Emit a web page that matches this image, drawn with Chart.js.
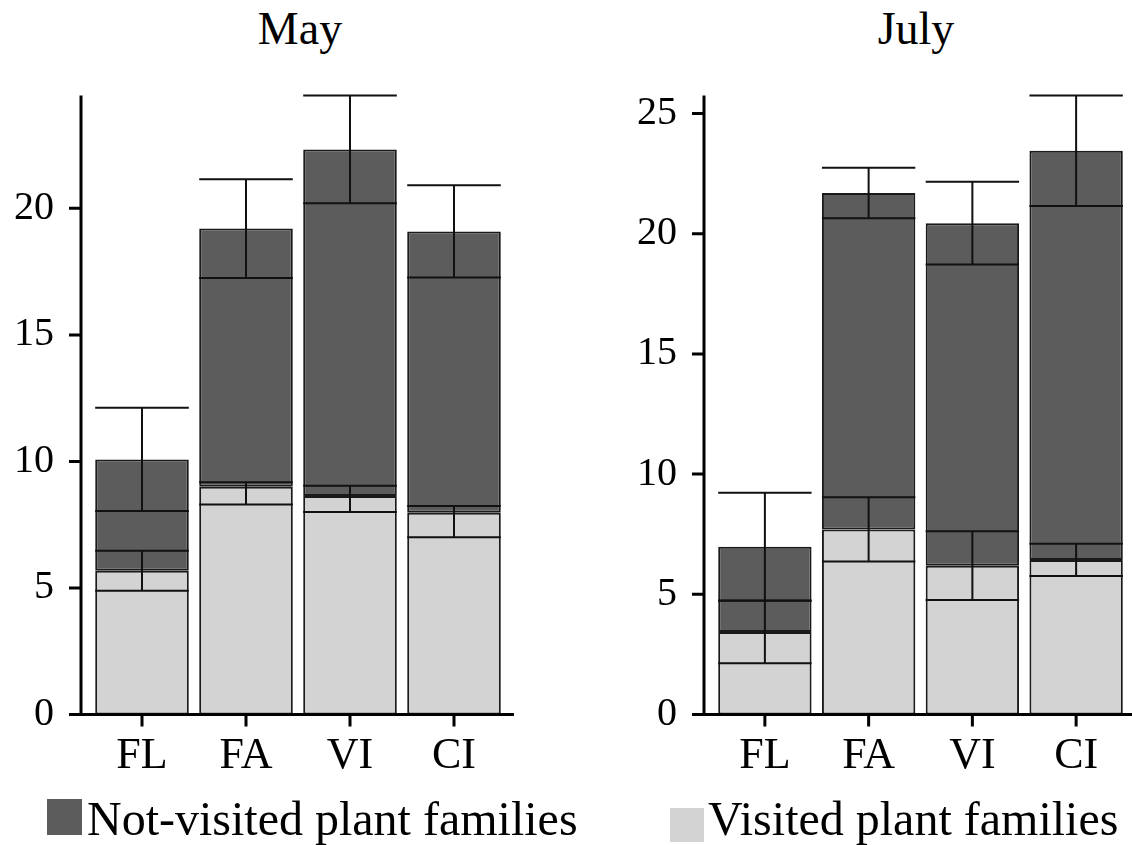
<!DOCTYPE html>
<html>
<head>
<meta charset="utf-8">
<script src="https://cdn.jsdelivr.net/npm/chart.js@4.4.1/dist/chart.umd.min.js"></script>
<style>
  body { margin: 0; background: #fff; }
  #wrap { position: relative; width: 1132px; height: 845px; overflow: hidden; font-family: 'Liberation Serif', 'Times New Roman', serif; color: #000; }
  canvas { position: absolute; top: 0; }
  .title { position: absolute; top: 6px; width: 200px; text-align: center; font-size: 46px; line-height: 46px; }
  .key { position: absolute; top: 795px; font-size: 48px; line-height: 48px; white-space: nowrap; }
  .box { position: absolute; }
</style>
</head>
<body>
<div id="wrap">
  <div class="title" style="left:200px">May</div>
  <div class="title" style="left:816px">July</div>
  <canvas id="chartMay" width="560" height="845" style="left:0"></canvas>
  <canvas id="chartJuly" width="566" height="845" style="left:566px"></canvas>
  <div class="box" id="boxDark" style="left:47px;top:799px;width:35px;height:36px"></div>
  <div class="key" style="left:87px">Not-visited plant families</div>
  <div class="box" id="boxLight" style="left:670px;top:808px;width:34px;height:34px"></div>
  <div class="key" style="left:708px">Visited plant families</div>
</div>
<script>
// categorias (sitios)
const categories = ['FL', 'FA', 'VI', 'CI'];

// Mayo
const mayVisited = [5.68, 9.0, 8.63, 7.97];
const mayNotVisited = [4.40, 10.2, 13.7, 11.12];
const mayVisitedErrLow = [0.79, 0.70, 0.63, 0.97];
const mayVisitedErrHigh = [0.79, 0.18, 0.41, 0.27];
const mayTotalErr = [2.04, 1.95, 2.13, 1.82];

// Julio
const julyVisited = [3.43, 7.70, 6.19, 6.43];
const julyNotVisited = [3.55, 13.99, 14.25, 17.02];
const julyVisitedErr = [1.30, 1.34, 1.43, 0.67];
const julyTotalErr = [2.24, 1.05, 1.72, 2.30];

const yTicksStep = 5;

const lightGrey = '#d3d3d3';
const darkGrey = '#5c5c5c';
const serif = "'Liberation Serif', 'Times New Roman', serif";

document.getElementById('boxDark').style.background = darkGrey;
document.getElementById('boxLight').style.background = lightGrey;

// barras de error: linea de ancho completo en low y high, y vertical en el centro
const errorBars = {
  id: 'errorBars',
  afterDatasetsDraw(chart, args, opts) {
    const { ctx } = chart;
    const y = chart.scales.y;
    const bars = chart.getDatasetMeta(0).data;
    ctx.save();
    ctx.strokeStyle = '#111';
    ctx.lineWidth = 2;
    opts.ranges.forEach(r => {
      bars.forEach((bar, i) => {
        const half = bar.width / 2;
        const lo = y.getPixelForValue(r.lo[i]);
        const hi = y.getPixelForValue(r.hi[i]);
        ctx.beginPath();
        ctx.moveTo(bar.x - half, lo); ctx.lineTo(bar.x + half, lo);
        ctx.moveTo(bar.x - half, hi); ctx.lineTo(bar.x + half, hi);
        ctx.moveTo(bar.x, lo); ctx.lineTo(bar.x, hi);
        ctx.stroke();
      });
    });
    ctx.restore();
  }
};

// ejes dibujados a mano (el eje y va un poco separado de las barras)
const axesLines = {
  id: 'axesLines',
  afterDraw(chart) {
    const { ctx, chartArea } = chart;
    const { x, y } = chart.scales;
    const ax = chartArea.left - 9;
    const by = y.getPixelForValue(0);
    ctx.save();
    ctx.strokeStyle = '#000';
    ctx.lineWidth = 3;
    ctx.beginPath();
    ctx.moveTo(ax, chartArea.top); ctx.lineTo(ax, by + 1.5);
    ctx.moveTo(ax - 12, by); ctx.lineTo(chartArea.right + 8, by);
    y.ticks.forEach(t => {
      const py = y.getPixelForValue(t.value);
      ctx.moveTo(ax - 12, py); ctx.lineTo(ax, py);
    });
    x.ticks.forEach((t, i) => {
      const px = x.getPixelForTick(i);
      ctx.moveTo(px, by); ctx.lineTo(px, by + 12);
    });
    ctx.stroke();
    ctx.restore();
  }
};

function panel(id, visited, notVisited, visLo, visHi, totErr, leftW, rightPad) {
  const totals = visited.map((v, i) => v + notVisited[i]);
  const ranges = [
    { lo: visited.map((v, i) => v - visLo[i]), hi: visited.map((v, i) => v + visHi[i]) },
    { lo: totals.map((t, i) => t - totErr[i]), hi: totals.map((t, i) => t + totErr[i]) }
  ];
  const yMax = Math.max(...ranges[1].hi);

  new Chart(document.getElementById(id), {
    type: 'bar',
    data: {
      labels: categories,
      datasets: [
        { label: 'Visited plant families', data: visited, backgroundColor: lightGrey,
          borderColor: '#1a1a1a', borderWidth: 2, borderSkipped: false },
        { label: 'Not-visited plant families', data: notVisited, backgroundColor: darkGrey,
          borderColor: '#1a1a1a', borderWidth: 2, borderSkipped: false }
      ]
    },
    options: {
      responsive: false,
      animation: false,
      layout: { padding: { top: 95.5, right: rightPad, bottom: 0, left: 0 } },
      datasets: { bar: { barPercentage: 0.9, categoryPercentage: 1 } },
      plugins: {
        legend: { display: false },
        tooltip: { enabled: false },
        errorBars: { ranges }
      },
      scales: {
        x: {
          stacked: true,
          offset: true,
          grid: { display: false, drawTicks: false },
          border: { display: false },
          ticks: { color: '#000', font: { family: serif, size: 44 }, padding: 16 },
          afterFit: s => { s.height = 130.5; }
        },
        y: {
          stacked: true,
          min: 0,
          max: yMax,
          grid: { display: false, drawTicks: false },
          border: { display: false },
          ticks: { stepSize: yTicksStep, includeBounds: false, color: '#000',
                   font: { family: serif, size: 40 }, padding: 36 },
          afterFit: s => { s.width = leftW; }
        }
      }
    },
    plugins: [errorBars, axesLines]
  });
}

panel('chartMay', mayVisited, mayNotVisited, mayVisitedErrLow, mayVisitedErrHigh, mayTotalErr, 90, 54);
panel('chartJuly', julyVisited, julyNotVisited, julyVisitedErr, julyVisitedErr, julyTotalErr, 147, 4);
</script>
</body>
</html>
